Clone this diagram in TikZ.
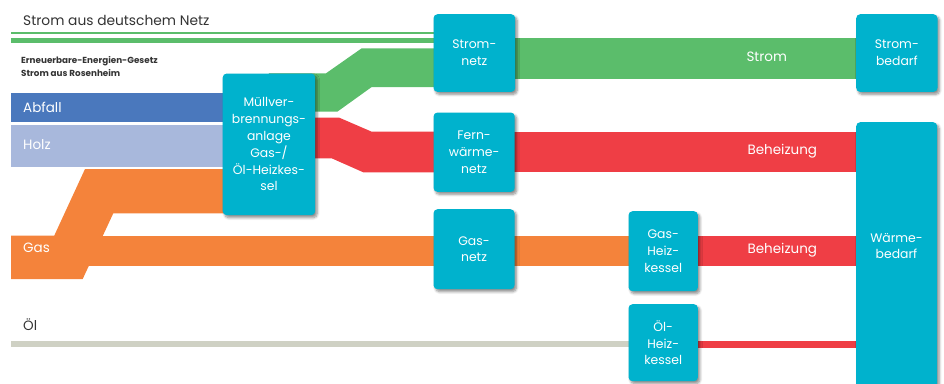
\documentclass[tikz,border=0pt]{standalone}
\usepackage{fontspec}
\setmainfont{Poppins}
\usetikzlibrary{shadows.blur}
\definecolor{boxc}{HTML}{00B2CD}
\definecolor{grn}{HTML}{5BBD6B}
\definecolor{rd}{HTML}{EF3E45}
\definecolor{org}{HTML}{F4833B}
\definecolor{abf}{HTML}{4A78BD}
\definecolor{hlz}{HTML}{A8B8DC}
\definecolor{oel}{HTML}{CFD1C4}
\definecolor{txt}{HTML}{333333}
\pgfdeclarelayer{bg}
\pgfsetlayers{bg,main}
\begin{document}
\begin{tikzpicture}[x=1pt,y=-1pt,
  boxnode/.style={fill=boxc, rounded corners=4pt, text=white, align=center, inner sep=0pt,
    anchor=north west, font=\fontsize{12.4}{16.8}\selectfont,
    blur shadow={shadow xshift=2pt, shadow yshift=-2.5pt, shadow opacity=45,
      shadow blur steps=6, shadow blur radius=2.5pt}},
  boxtxt/.style={text=white, align=center, inner sep=0pt, font=\fontsize{12.4}{16.8}\selectfont},
  bandlabel/.style={text=white, font=\fontsize{13.5}{15}\selectfont, inner sep=0pt}]
\useasboundingbox (0,0) rectangle (944,383);
% boxes
\node[boxnode, minimum width=92.5pt, minimum height=141.7pt] (muell) at (222.5,73.3)
  {Müllver-\\brennungs-\\anlage\\Gas-/\\Öl-Heizkes-\\sel};
\node[boxnode, minimum width=81.7pt, minimum height=77.7pt] (stromnetz) at (433.3,14) {Strom-\\netz};
\node[boxnode, minimum width=81.2pt, minimum height=79.4pt] (fern) at (433.3,112.3) {Fern-\\wärme-\\netz};
\node[boxnode, minimum width=81pt, minimum height=80pt] (gasnetz) at (433.3,209) {Gas-\\netz};
\node[boxnode, minimum width=69.4pt, minimum height=80pt] (gasheiz) at (628.3,211) {Gas-\\Heiz-\\kessel};
\node[boxnode, minimum width=69.4pt, minimum height=77pt] (oelheiz) at (628.3,304) {Öl-\\Heiz-\\kessel};
\node[boxnode, minimum width=81.3pt, minimum height=77.7pt] (strombed) at (856,14) {Strom-\\bedarf};
\node[boxnode, minimum width=81pt, minimum height=275pt] (waerme) at (856,122) {};
\node[boxtxt] (waermetxt) at (896.5,246) {Wärme-\\bedarf};
% bands
\begin{pgfonlayer}{bg}
\fill[grn] (11,32.3) rectangle (stromnetz.center |- 0,33.6);
\fill[grn] (11,37.7) rectangle (stromnetz.center |- 0,43.3);
\fill[grn] (muell.center |- 0,73.3) -- (326,73.3) -- (361.7,48.3) -- (stromnetz.center |- 0,48.3)
  -- (stromnetz.center |- 0,87) -- (371.7,87) -- (337.3,111.7) -- (muell.center |- 0,111.7) -- cycle;
\fill[grn] (stromnetz.center |- 0,38.3) rectangle (strombed.center |- 0,78.5);
\fill[rd] (muell.center |- 0,117.7) -- (339.3,117.7) -- (371.7,131.7) -- (fern.center |- 0,131.7)
  -- (fern.center |- 0,172.3) -- (363.3,172.3) -- (331.7,158.3) -- (muell.center |- 0,158.3) -- cycle;
\fill[rd] (fern.center |- 0,131.7) rectangle (waerme.center |- 0,172.3);
\fill[abf] (11,93.3) rectangle (muell.center |- 0,122);
\fill[hlz] (11,124.7) rectangle (muell.center |- 0,166.7);
\fill[org] (11,235.5) -- (54.3,235.5) -- (85,169) -- (muell.center |- 0,169) -- (muell.center |- 0,213.3)
  -- (113.3,213.3) -- (82.7,279) -- (11,279) -- cycle;
\fill[org] (11,235.5) rectangle (gasheiz.center |- 0,266);
\fill[rd] (gasheiz.center |- 0,236) rectangle (waerme.center |- 0,266);
\fill[oel] (11,340.7) rectangle (oelheiz.center |- 0,346.7);
\fill[rd] (oelheiz.center |- 0,341) rectangle (waerme.center |- 0,347.7);
\end{pgfonlayer}
% texts
\node[anchor=west, text=txt, font=\fontsize{13.8}{15}\selectfont, inner sep=0pt] (t1) at (23,20.5) {Strom aus deutschem Netz};
\node[anchor=north west, align=left, text=txt, font=\bfseries\fontsize{8.8}{13}\selectfont, inner sep=0pt] (t2) at (21,56.5)
  {Erneuerbare-Energien-Gesetz\\Strom aus Rosenheim};
\node[bandlabel, anchor=west] (tabf) at (23,107.5) {Abfall};
\node[bandlabel, anchor=west] (tholz) at (23,145) {Holz};
\node[bandlabel, anchor=west] (tgas) at (23,248) {Gas};
\node[bandlabel, anchor=west, text=txt] (toel) at (23,325) {Öl};
\node[bandlabel] (tstrom) at (766.7,56.7) {Strom};
\node[bandlabel] (tbeh1) at (782.3,150.7) {Beheizung};
\node[bandlabel] (tbeh2) at (782.3,250) {Beheizung};
\end{tikzpicture}
\end{document}
